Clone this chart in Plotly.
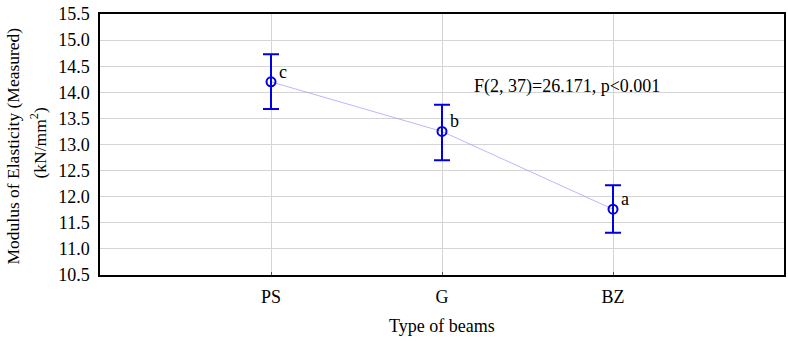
import plotly.graph_objects as go

categories = ["PS", "G", "BZ"]
positions = [1, 2, 3]
means = [14.20, 13.25, 11.76]
upper = [14.73, 13.76, 12.22]
lower = [13.68, 12.70, 11.31]
letters = ["c", "b", "a"]
y_ticks = [10.5, 11.0, 11.5, 12.0, 12.5, 13.0, 13.5, 14.0, 14.5, 15.0, 15.5]
stat_text = "F(2, 37)=26.171, p<0.001"
y_title_1 = "Modulus of Elasticity (Measured)"
y_title_2 = "(kN/mm<sup>2</sup>)"
x_title = "Type of beams"

err_plus = [u - m for u, m in zip(upper, means)]
err_minus = [m - l for m, l in zip(means, lower)]

FONT = "Liberation Serif, Times New Roman, serif"
FS = 18

fig = go.Figure()
fig.add_trace(go.Scatter(
    x=positions, y=means, mode="lines",
    line=dict(color="#9a9aff", width=0.7),
    hoverinfo="skip", showlegend=False,
))
fig.add_trace(go.Scatter(
    x=positions, y=means, mode="markers",
    marker=dict(symbol="circle-open", size=9, color="#0000e0", line=dict(width=2, color="#0000e0")),
    error_y=dict(type="data", symmetric=False, array=err_plus, arrayminus=err_minus,
                 color="#0000e0", thickness=2, width=8),
    showlegend=False,
))

for x, m, t in zip(positions, means, letters):
    fig.add_annotation(x=x, y=m, text=t, showarrow=False, xanchor="center", yanchor="middle",
                       xshift=12, yshift=10, font=dict(family=FONT, size=FS, color="black"))

fig.add_annotation(x=2.73, y=14.12, text=stat_text, showarrow=False, xanchor="center",
                   yanchor="middle", font=dict(family=FONT, size=FS, color="black"))

# y-axis title as two rotated lines
fig.add_annotation(xref="paper", yref="paper", x=0, y=0.5, xshift=-88, yshift=-2,
                   text=y_title_1, textangle=-90, showarrow=False,
                   xanchor="center", yanchor="middle",
                   font=dict(family=FONT, size=17.5, color="black"))
fig.add_annotation(xref="paper", yref="paper", x=0, y=0.5, xshift=-62, yshift=1,
                   text=y_title_2, textangle=-90, showarrow=False,
                   xanchor="center", yanchor="middle",
                   font=dict(family=FONT, size=17.5, color="black"))

# x-axis title
fig.add_annotation(xref="paper", yref="paper", x=0.5, y=0, yshift=-51,
                   text=x_title, showarrow=False, xanchor="center", yanchor="middle",
                   font=dict(family=FONT, size=FS, color="black"))

fig.update_xaxes(
    range=[0, 4], tickvals=positions, ticktext=categories,
    showgrid=True, gridcolor="#d4d4d4", gridwidth=1,
    showline=True, linecolor="black", linewidth=1.5, mirror=True,
    ticks="inside", ticklen=3, tickcolor="#555",
    zeroline=False, automargin=False, ticklabelstandoff=5,
    tickfont=dict(family=FONT, size=FS, color="black"),
)
fig.update_yaxes(
    range=[10.5, 15.5], tickvals=y_ticks, ticktext=[f"{v:.1f}" for v in y_ticks],
    showgrid=True, gridcolor="#d4d4d4", gridwidth=1,
    showline=True, linecolor="black", linewidth=1.5, mirror=True,
    ticks="", zeroline=False, automargin=False, ticklabelstandoff=5,
    ticklabeloverflow="allow",
    tickfont=dict(family=FONT, size=FS, color="black"),
)

fig.update_layout(
    width=788, height=341,
    margin=dict(l=100, r=4, t=14, b=66),
    paper_bgcolor="white", plot_bgcolor="white",
    font=dict(family=FONT, size=FS, color="black"),
)

fig.write_html("out.html", config={"displayModeBar": False},
               post_script="document.body.style.margin='0';")
